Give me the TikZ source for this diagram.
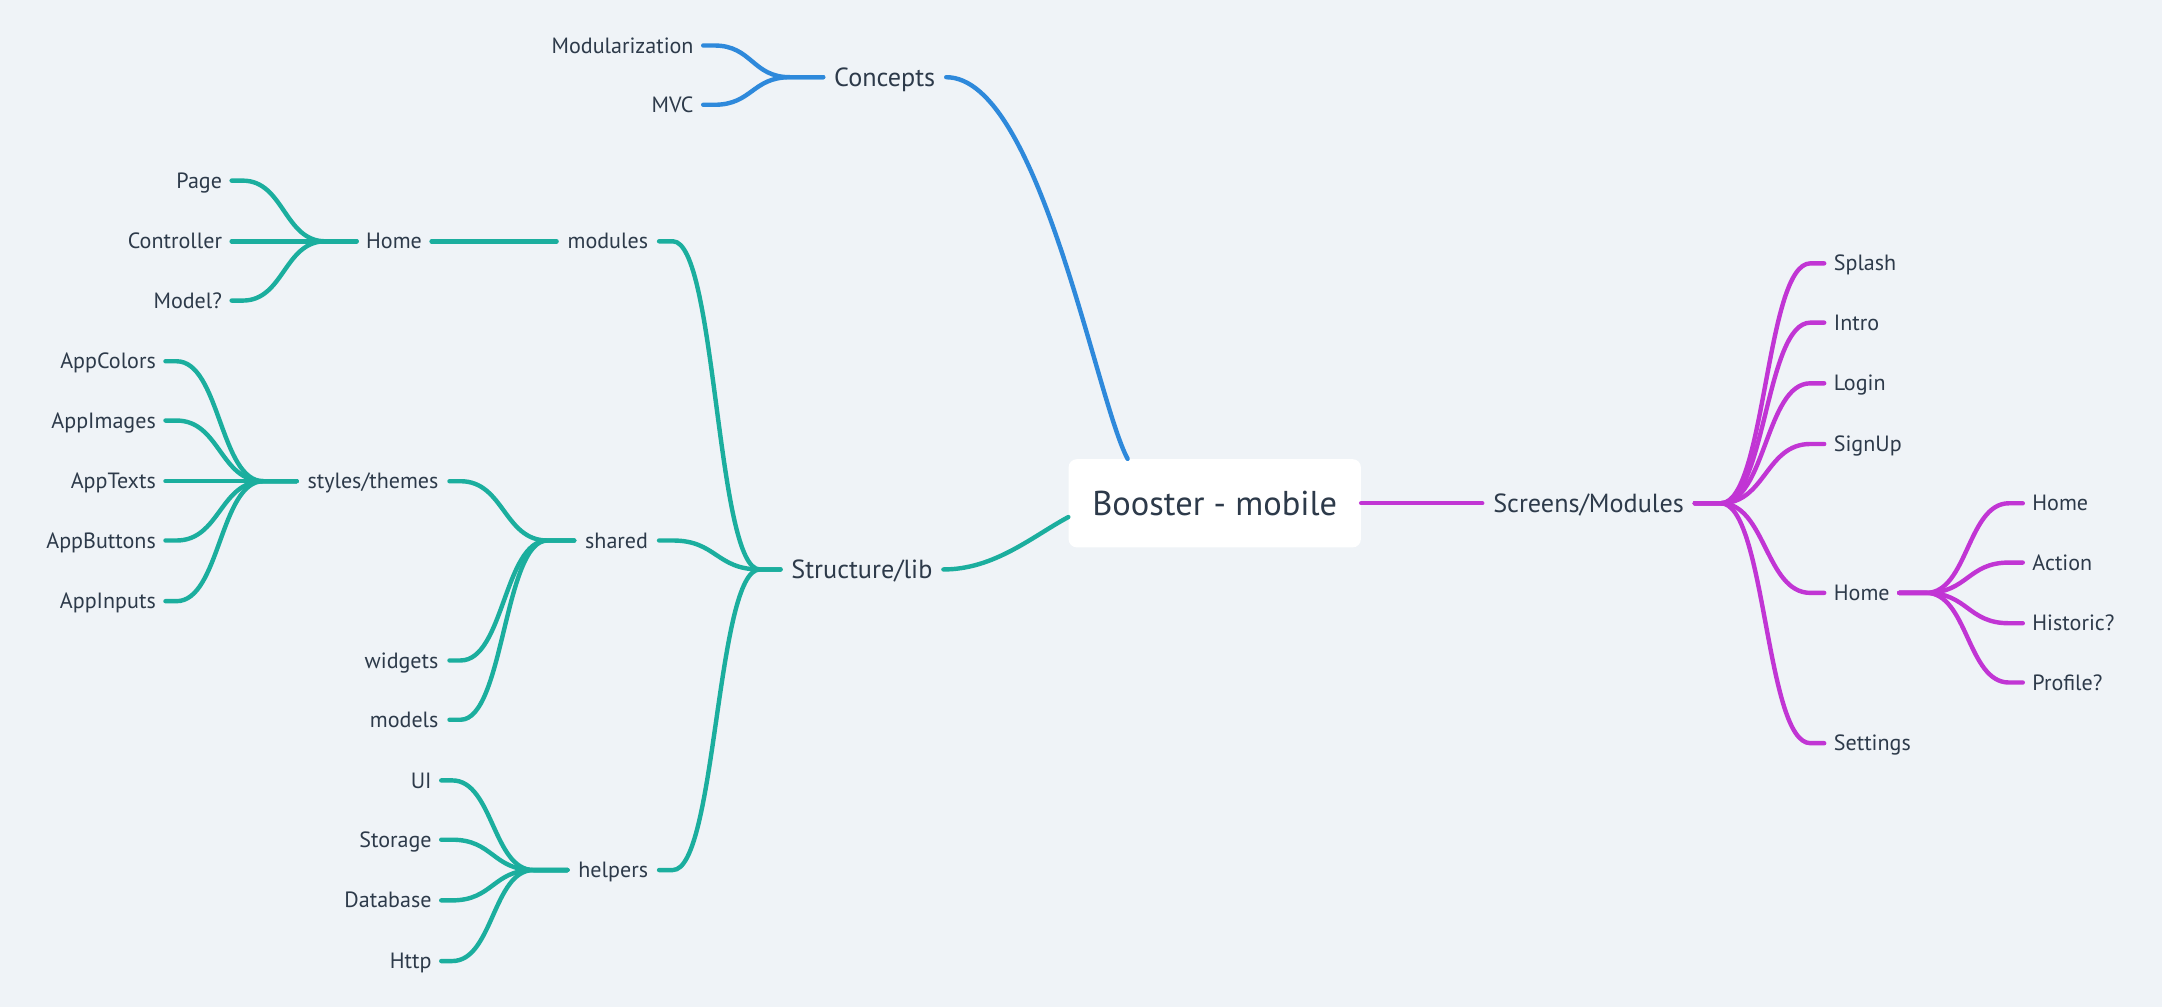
\documentclass[tikz,border=0pt]{standalone}
\usepackage{fontspec}
\setmainfont{PT Sans}
\usetikzlibrary{calc}
\definecolor{bg}{RGB}{239,243,247}
\definecolor{txt}{RGB}{45,58,74}
\definecolor{cblue}{RGB}{46,137,219}
\definecolor{cteal}{RGB}{27,174,158}
\definecolor{cmag}{RGB}{193,53,212}
\tikzset{
  lbl/.style={font=\fontsize{16}{19}\selectfont, text=txt, inner sep=0pt, text height=12pt, text depth=1pt},
  big/.style={font=\fontsize{19}{22}\selectfont, text height=14pt, text depth=1pt},
  lblL/.style={lbl, anchor=east, outer xsep=7pt},
  lblR/.style={lbl, anchor=west, outer xsep=7pt},
  midL/.style={lbl, anchor=east, outer xsep=8pt},
  midR/.style={lbl, anchor=west, outer xsep=8pt},
  rootbox/.style={fill=white, rounded corners=6pt, minimum width=212pt, minimum height=64pt, inner sep=0pt,
     font=\fontsize{25}{30}\selectfont, text=txt},
  conn/.style={line width=3.2pt, line cap=round, line join=round},
  branch/.style={to path={let \p1=(\tikztostart), \p2=(\tikztotarget) in
     .. controls (\x1/2+\x2/2,\y1) and (\x1/2+\x2/2,\y2) .. (\tikztotarget)}}
}
\begin{document}
\begin{tikzpicture}[x=1pt,y=-1pt]
\fill[bg] (0,0) rectangle (1568,730);
\useasboundingbox (0,0) rectangle (1568,730);

% root
\node[rootbox] (root) at (881,365) {Booster - mobile};

% ---- Concepts (blue)
\node[midR, big] (conc) at (597,56) {Concepts};
\node[lblL] (modz) at (510,33) {Modularization};
\node[lblL] (mvc) at (510,76) {MVC};
\coordinate (jc) at (573,56);

% ---- Structure/lib (teal)
\node[midR, big] (struct) at (566,413) {Structure/lib};
\coordinate (js) at (551,413);
\node[midL] (modules) at (478,175) {modules};
\node[midL] (shared) at (478,392) {shared};
\node[midL] (helpers) at (478,631) {helpers};

\node[lblL] (home1) at (313,175) {Home};
\coordinate (jh) at (236,175);
\node[lblL] (page) at (168,131) {Page};
\node[lblL] (ctrl) at (168,175) {Controller};
\node[lblL] (model) at (168,218) {Model?};

\node[midL] (styles) at (326,349) {styles/themes};
\coordinate (jst) at (191,349);
\node[lblL] (acol) at (120,262) {AppColors};
\node[lblL] (aimg) at (120,305) {AppImages};
\node[lblL] (atxt) at (120,349) {AppTexts};
\node[lblL] (abtn) at (120,392) {AppButtons};
\node[lblL] (ainp) at (120,436) {AppInputs};

\coordinate (jsh) at (397,392);
\node[midL] (widgets) at (326,479) {widgets};
\node[midL] (models) at (326,522) {models};

\coordinate (jhe) at (387,631);
\node[lblL] (ui) at (320,566) {UI};
\node[lblL] (storage) at (320,609) {Storage};
\node[lblL] (db) at (320,653) {Database};
\node[lblL] (http) at (320,697) {Http};

% ---- Screens/Modules (magenta)
\node[midR, big] (screens) at (1075,365) {Screens/Modules};
\coordinate (jsc) at (1248,365);
\node[lblR] (splash) at (1323,191) {Splash};
\node[lblR] (intro) at (1323,234) {Intro};
\node[lblR] (login) at (1323,278) {Login};
\node[lblR] (signup) at (1323,322) {SignUp};
\node[lblR] (home2) at (1323,430) {Home};
\node[lblR] (settings) at (1323,539) {Settings};
\coordinate (jh2) at (1397,430);
\node[lblR] (hhome) at (1467,365) {Home};
\node[lblR] (action) at (1467,408) {Action};
\node[lblR] (hist) at (1467,452) {Historic?};
\node[lblR] (prof) at (1467,495) {Profile?};

% ---- connectors
\begin{scope}[conn, cblue]
\draw (conc.east) .. controls +(67,0) and +(-23,-43) .. ($(root.north west)+(43,0)$);
\foreach \c in {modz,mvc} \draw (\c.east) -- ++(8,0) to[branch] (jc) -- (conc.west);
\end{scope}

\begin{scope}[conn, cteal]
\draw (struct.east) .. controls +(37,0) and +(-26,14) .. ($(root.west)+(0,10)$);
\foreach \c in {modules,shared,helpers} \draw (\c.east) -- ++(10,0) to[branch] (js) -- (struct.west);
\draw (home1.east) -- (modules.west);
\foreach \c in {page,ctrl,model} \draw (\c.east) -- ++(8,0) to[branch] (jh) -- (home1.west);
\foreach \c in {styles,widgets,models} \draw (\c.east) -- ++(8,0) to[branch] (jsh) -- (shared.west);
\foreach \c in {acol,aimg,atxt,abtn,ainp} \draw (\c.east) -- ++(8,0) to[branch] (jst) -- (styles.west);
\foreach \c in {ui,storage,db,http} \draw (\c.east) -- ++(8,0) to[branch] (jhe) -- (helpers.west);
\end{scope}

\begin{scope}[conn, cmag]
\draw (root.east) -- (screens.west);
\foreach \c in {splash,intro,login,signup,home2,settings} \draw (screens.east) -- (jsc) to[branch] ($(\c.west)+(-10,0)$) -- (\c.west);
\foreach \c in {hhome,action,hist,prof} \draw (home2.east) -- (jh2) to[branch] ($(\c.west)+(-10,0)$) -- (\c.west);
\end{scope}
\end{tikzpicture}
\end{document}
